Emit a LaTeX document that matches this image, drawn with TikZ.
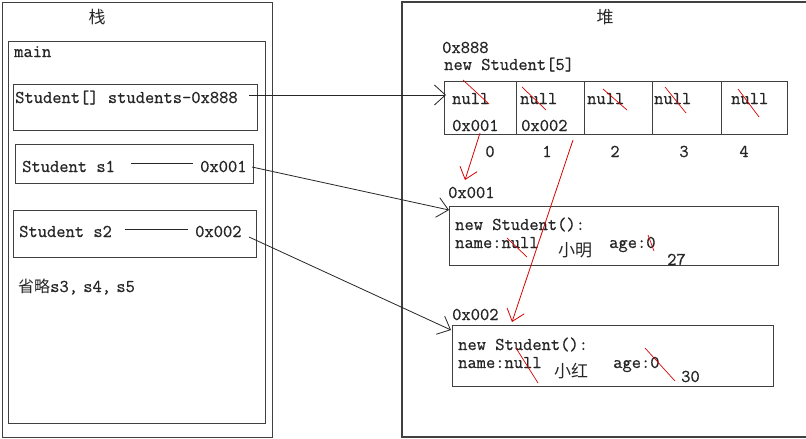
\documentclass[tikz,border=0pt]{standalone}
\usepackage{fontspec}
\setmainfont{Latin Modern Mono}[FakeBold=0.6]
\newfontfamily\cjk{Noto Sans CJK SC}
\usetikzlibrary{arrows.meta}
\newcommand\mkbox[5]{\node[box, minimum width=#4pt, minimum height=#5pt] (#1) at (#2,#3) {};}
\begin{document}
\begin{tikzpicture}[x=1pt,y=-1pt,
  box/.style={draw=black!75, line width=1.3pt, inner sep=0pt, anchor=north west},
  txt/.style={inner sep=0pt, anchor=base west, font=\fontsize{18}{18}\selectfont, text=black!85},
  cn/.style={inner sep=0pt, anchor=center, font=\cjk\fontsize{17}{18}\selectfont, text=black!85},
  link/.style={draw=black!85, line width=0.8pt, -{Straight Barb[length=11pt,width=20pt,line width=0.8pt]}},
  redlink/.style={draw=red!85!black, line width=0.8pt, -{Straight Barb[length=11pt,width=18pt,line width=0.8pt]}},
  strike/.style={draw=red!85!black, line width=0.7pt},
  plain/.style={draw=black!85, line width=0.8pt}]
\fill[white] (0,0) rectangle (806,439);
\useasboundingbox (0,0) rectangle (806,439);
% stack
\mkbox{stack}{2}{2}{270}{435}
\mkbox{mainbox}{8}{41}{257}{382}
\node[cn] (stacklbl) at (97,17) {栈};
\node[txt] (maintxt) at (14,57) {main};
\mkbox{sbox}{13}{84}{244}{46}
\node[txt] (stxt) at (15,103) {Student[] students-0x888};
\mkbox{s1box}{15}{144}{238}{39}
\node[txt] (s1txt) at (22,172) {Student s1};
\node[txt] (s1addr) at (200,172) {0x001};
\coordinate (s1a) at (131,163);
\coordinate (s1b) at (193,163);
\draw[plain] (s1a) -- (s1b);
\mkbox{s2box}{13}{210}{243}{47}
\node[txt] (s2txt) at (19,237) {Student s2};
\node[txt] (s2addr) at (195,237) {0x002};
\coordinate (s2a) at (125,229);
\coordinate (s2b) at (188,229);
\draw[plain] (s2a) -- (s2b);
\node[txt] (omit) at (18,292) {{\cjk\fontsize{16}{16}\selectfont 省略}s3,\kern-4pt\ s4,\kern-4pt\ s5};
% heap
\draw[draw=black!75, line width=1.3pt] (806,2) -- (402,2) -- (402,437) -- (806,437);
\node[cn] (heaplbl) at (605,17) {堆};
\node[txt] (addr888) at (442,53) {0x888};
\node[txt] (newarr) at (444,70) {new Student[5]};
\mkbox{c0}{444}{81}{72}{53}
\mkbox{c1}{516}{81}{68}{53}
\mkbox{c2}{584}{81}{68}{53}
\mkbox{c3}{652}{81}{69}{53}
\mkbox{c4}{721}{81}{66}{53}
\node[txt] (n0) at (452,104) {null};
\node[txt] (n1) at (520,104) {null};
\node[txt] (n2) at (587,104) {null};
\node[txt] (n3) at (654,104) {null};
\node[txt] (n4) at (731,104) {null};
\node[txt] (v0) at (452,131) {0x001};
\node[txt] (v1) at (521,131) {0x002};
\node[txt,anchor=base] (i0) at (490,157) {0};
\node[txt,anchor=base] (i1) at (547,157) {1};
\node[txt,anchor=base] (i2) at (615,157) {2};
\node[txt,anchor=base] (i3) at (684,157) {3};
\node[txt,anchor=base] (i4) at (744,157) {4};
\draw[strike] (463,80) -- (489,104);
\draw[strike] (522,87) -- (546,110);
\draw[strike] (603,89) -- (627,110);
\draw[strike] (665,87) -- (686,113);
\draw[strike] (738,89) -- (759,117);
% student 1
\node[txt] (addr1) at (448,198) {0x001};
\mkbox{st1}{449}{206}{329}{59}
\node[txt] (st1a) at (455,230) {new Student():};
\node[txt] (st1b) at (455,248) {name:null};
\node[cn] (st1n) at (575,250) {小明};
\node[txt] (st1c) at (609,248) {age:0};
\node[txt] (st1d) at (667,265) {27};
\draw[strike] (507,238) -- (527,257);
\draw[strike] (648,235) -- (654,251);
% student 2
\node[txt] (addr2) at (452,320) {0x002};
\mkbox{st2}{452}{325}{321}{61}
\node[txt] (st2a) at (458,350) {new Student():};
\node[txt] (st2b) at (458,368) {name:null};
\node[cn] (st2n) at (571,371) {小红};
\node[txt] (st2c) at (613,368) {age:0};
\node[txt] (st2d) at (681,382) {30};
\draw[strike] (516,348) -- (538,383);
\draw[strike] (645,348) -- (675,381);
% connectors
\coordinate (e888) at (249,95);
\coordinate (arrin) at (446,95);
\draw[link] (e888) -- (arrin);
\coordinate (e001) at (252,167);
\coordinate (st1in) at (449,210);
\draw[link] (e001) -- (st1in);
\coordinate (e002) at (249,237);
\coordinate (st2in) at (451,330);
\draw[link] (e002) -- (st2in);
\coordinate (r1s) at (480,133);
\coordinate (r1e) at (465,180);
\draw[redlink] (r1s) -- (r1e);
\coordinate (r2s) at (573,140);
\coordinate (r2e) at (512,322);
\draw[redlink] (r2s) -- (r2e);
\end{tikzpicture}
\end{document}
